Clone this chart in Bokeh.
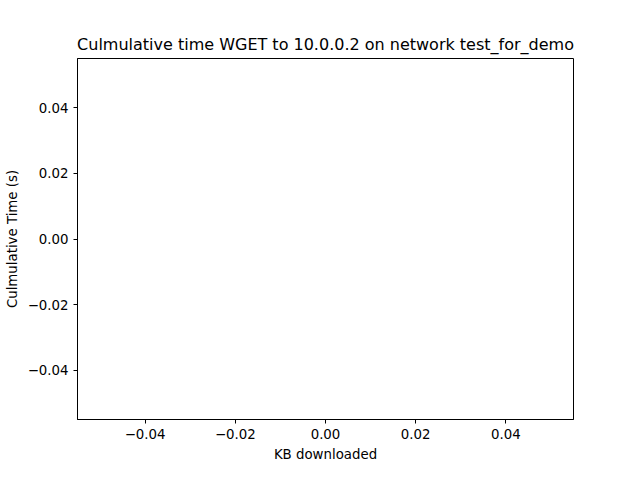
from bokeh.plotting import figure
from bokeh.models import ColumnDataSource, FixedTicker, Range1d
from bokeh.embed import file_html
from bokeh.resources import INLINE

# No data was recorded for this run: the chart is empty
kb_downloaded = []
cumulative_time = []
tick_values = [-0.04, -0.02, 0.0, 0.02, 0.04]
tick_labels = {-0.04: "\u22120.04", -0.02: "\u22120.02", 0.0: "0.00", 0.02: "0.02", 0.04: "0.04"}

source = ColumnDataSource(data=dict(x=kb_downloaded, y=cumulative_time))

p = figure(width=624, height=464, output_backend="svg", toolbar_location=None,
           x_range=Range1d(-0.055, 0.055), y_range=Range1d(-0.055, 0.055),
           title="Culmulative time WGET to 10.0.0.2 on network test_for_demo",
           x_axis_label="KB downloaded", y_axis_label="Culmulative Time (s)",
           min_border_left=77, min_border_right=51, min_border_top=58, min_border_bottom=37)
p.line("x", "y", source=source, line_color="#1f77b4", line_width=1.5)

p.title.align = "center"
p.title.text_font = "DejaVu Sans"
p.title.text_font_size = "12pt"
p.title.text_font_style = "normal"
p.title.text_color = "black"
p.grid.visible = False
p.outline_line_color = "black"
p.outline_line_width = 1

for ax in (p.xaxis[0], p.yaxis[0]):
    ax.ticker = FixedTicker(ticks=tick_values)
    ax.major_label_overrides = tick_labels
    ax.major_label_text_font = "DejaVu Sans"
    ax.major_label_text_font_size = "10pt"
    ax.major_label_text_color = "black"
    ax.axis_label_text_font = "DejaVu Sans"
    ax.axis_label_text_font_size = "10pt"
    ax.axis_label_text_font_style = "normal"
    ax.axis_label_text_color = "black"
    ax.minor_tick_line_color = None
    ax.axis_line_color = "black"
    ax.major_tick_line_color = "black"
    ax.major_tick_out = 4
    ax.major_tick_in = 0

open("out.html", "w").write(file_html(p, INLINE))
